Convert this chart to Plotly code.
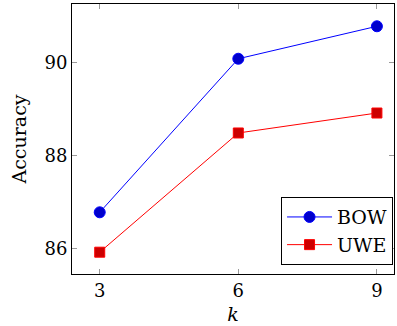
import plotly.graph_objects as go

k_values = [3, 6, 9]
bow_acc = [86.78, 90.09, 90.79]
uwe_acc = [85.92, 88.49, 88.92]
x_ticks = [3, 6, 9]
y_ticks = [86, 88, 90]

FONT = "DejaVu Serif"
FS = 19
TFS = 18

fig = go.Figure()
fig.add_trace(go.Scatter(
    x=k_values, y=bow_acc, name="BOW", mode="lines+markers",
    line=dict(color="#0000ff", width=1),
    marker=dict(symbol="circle", size=11, color="#0000cc", line=dict(color="#0000ff", width=1)),
))
fig.add_trace(go.Scatter(
    x=k_values, y=uwe_acc, name="UWE", mode="lines+markers",
    line=dict(color="#ff0000", width=1),
    marker=dict(symbol="square", size=10, color="#cc0000", line=dict(color="#ff0000", width=1)),
))

axis_common = dict(
    showgrid=False, zeroline=False, showline=True, linecolor="black", linewidth=1,
    mirror="ticks", ticks="inside", ticklen=5, tickcolor="#999999", tickwidth=1,
    tickfont=dict(family=FONT, size=TFS, color="black"),
)

fig.update_layout(
    width=397, height=326,
    margin=dict(l=72, r=3, t=4, b=52),
    paper_bgcolor="white", plot_bgcolor="white",
    font=dict(family=FONT, size=FS, color="black"),
    showlegend=True,
    legend=dict(
        x=0.997, y=0.033, xanchor="right", yanchor="bottom",
        bordercolor="black", borderwidth=1, bgcolor="white",
        font=dict(family=FONT, size=FS), itemwidth=45,
        tracegroupgap=0,
    ),
)
fig.update_xaxes(range=[2.4, 9.37], tickvals=x_ticks, ticktext=[str(v) for v in x_ticks],
                 title=dict(text="<i>k</i>", font=dict(family=FONT, size=FS), standoff=8), **axis_common)
fig.update_yaxes(range=[85.45, 91.27], tickvals=y_ticks, ticktext=[str(v) for v in y_ticks],
                 title=dict(text="Accuracy", font=dict(family=FONT, size=FS), standoff=12), **axis_common)

fig.write_html("out.html", config={"displayModeBar": False},
               post_script="document.body.style.margin='0';document.body.style.padding='0';document.body.style.overflow='hidden';")
